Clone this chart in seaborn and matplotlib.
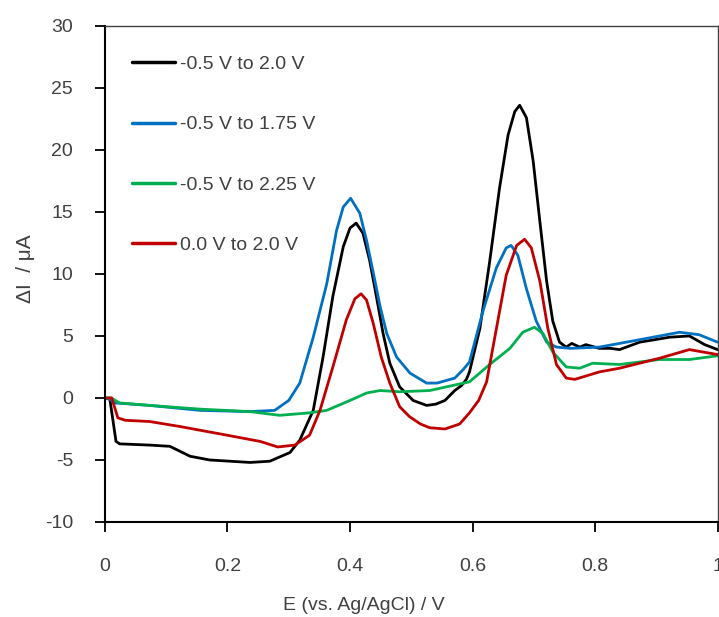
import matplotlib
matplotlib.use("Agg")
import matplotlib.pyplot as plt
import pandas as pd
import seaborn as sns

# (E in V, delta I in uA)
black_x = [0.0, 0.008, 0.018, 0.024, 0.073, 0.106, 0.139, 0.171, 0.237, 0.269, 0.302, 0.318,
           0.34, 0.356, 0.372, 0.389, 0.40, 0.41, 0.421, 0.432, 0.443, 0.454, 0.465, 0.481,
           0.503, 0.525, 0.54, 0.555, 0.571, 0.582, 0.59, 0.595, 0.612, 0.628, 0.644, 0.658,
           0.669, 0.677, 0.688, 0.699, 0.71, 0.721, 0.731, 0.742, 0.753, 0.762, 0.775, 0.785,
           0.807, 0.825, 0.84, 0.873, 0.922, 0.954, 0.979, 1.0]
black_y = [0.0, -0.1, -3.5, -3.7, -3.8, -3.9, -4.7, -5.0, -5.2, -5.1, -4.4, -3.4,
           -1.0, 3.3, 8.2, 12.2, 13.7, 14.1, 13.3, 11.1, 8.2, 5.2, 2.8, 0.9,
           -0.2, -0.6, -0.5, -0.2, 0.6, 1.0, 1.5, 2.1, 5.6, 11.0, 16.9, 21.2,
           23.1, 23.6, 22.6, 19.1, 14.2, 9.4, 6.2, 4.5, 4.1, 4.4, 4.1, 4.3,
           4.0, 4.0, 3.9, 4.5, 4.9, 5.0, 4.3, 3.9]

blue_x = [0.0, 0.008, 0.016, 0.073, 0.155, 0.237, 0.277, 0.30, 0.318, 0.34, 0.362, 0.378,
          0.389, 0.401, 0.416, 0.427, 0.438, 0.449, 0.46, 0.476, 0.498, 0.525, 0.542, 0.571,
          0.585, 0.595, 0.617, 0.639, 0.655, 0.663, 0.674, 0.688, 0.704, 0.721, 0.737, 0.76,
          0.807, 0.873, 0.938, 0.97, 1.0]
blue_y = [0.0, -0.1, -0.4, -0.6, -1.0, -1.1, -1.0, -0.2, 1.2, 4.9, 9.2, 13.5,
          15.4, 16.1, 14.9, 12.7, 10.1, 7.4, 5.2, 3.3, 2.0, 1.2, 1.2, 1.6,
          2.3, 2.9, 7.0, 10.5, 12.1, 12.3, 11.5, 8.8, 6.2, 4.5, 4.1, 4.0,
          4.1, 4.7, 5.3, 5.1, 4.5]

green_x = [0.0, 0.01, 0.024, 0.073, 0.155, 0.237, 0.285, 0.334, 0.362, 0.40, 0.427, 0.449,
           0.481, 0.53, 0.595, 0.628, 0.661, 0.682, 0.701, 0.715, 0.731, 0.753, 0.775, 0.796,
           0.84, 0.905, 0.954, 1.0]
green_y = [0.0, 0.0, -0.4, -0.6, -0.9, -1.1, -1.4, -1.2, -1.0, -0.2, 0.4, 0.6,
           0.5, 0.6, 1.3, 2.7, 4.0, 5.3, 5.7, 5.2, 3.7, 2.5, 2.4, 2.8,
           2.7, 3.1, 3.1, 3.4]

red_x = [0.0, 0.011, 0.021, 0.033, 0.073, 0.122, 0.188, 0.253, 0.282, 0.31, 0.334, 0.351,
         0.372, 0.394, 0.408, 0.418, 0.427, 0.438, 0.451, 0.465, 0.481, 0.497, 0.515, 0.53,
         0.555, 0.579, 0.595, 0.61, 0.623, 0.639, 0.655, 0.672, 0.685, 0.696, 0.71, 0.723,
         0.737, 0.753, 0.767, 0.807, 0.84, 0.905, 0.954, 1.0]
red_y = [0.0, 0.0, -1.6, -1.8, -1.9, -2.3, -2.9, -3.5, -3.95, -3.8, -3.0, -1.0,
         2.5, 6.3, 8.0, 8.4, 7.9, 6.0, 3.3, 1.2, -0.7, -1.5, -2.1, -2.4,
         -2.5, -2.1, -1.2, -0.2, 1.3, 5.6, 9.9, 12.3, 12.8, 12.1, 9.4, 5.6,
         2.7, 1.6, 1.5, 2.1, 2.4, 3.2, 3.9, 3.5]

labels = ["-0.5 V to 2.0 V", "-0.5 V to 1.75 V", "-0.5 V to 2.25 V", "0.0 V to 2.0 V"]
colors = ["#000000", "#0070C0", "#00B050", "#C00000"]

frames = []
for lab, xs, ys in zip(labels, [black_x, blue_x, green_x, red_x], [black_y, blue_y, green_y, red_y]):
    frames.append(pd.DataFrame({"E": xs, "I": ys, "scan": lab}))
df = pd.concat(frames, ignore_index=True)

sns.set_style("white")
plt.rcParams["font.family"] = ["Liberation Sans", "DejaVu Sans"]
plt.rcParams["axes.unicode_minus"] = False

fig = plt.figure(figsize=(7.19, 6.17), dpi=100)
ax = fig.add_axes([0.146, 0.154, 0.852, 0.804])

sns.lineplot(data=df, x="E", y="I", hue="scan", hue_order=labels, palette=colors,
             sort=False, estimator=None, linewidth=2.0, ax=ax)
for ln in ax.get_lines():
    ln.set_solid_joinstyle("round")

ax.set_xlim(0, 1)
ax.set_ylim(-10, 30)
ax.set_xticks([0, 0.2, 0.4, 0.6, 0.8, 1])
ax.set_xticklabels(["0", "0.2", "0.4", "0.6", "0.8", "1"])
ax.set_yticks(range(-10, 31, 5))

for side in ["left", "bottom"]:
    ax.spines[side].set_color("black")
    ax.spines[side].set_linewidth(1.5)
for side in ["top", "right"]:
    ax.spines[side].set_color("#404040")
    ax.spines[side].set_linewidth(1.0)

ax.tick_params(axis="y", direction="out", length=7, width=1.3, color="black",
               pad=16, labelsize=14, labelcolor="#404040", left=True)
ax.tick_params(axis="x", direction="out", length=7, width=1.3, color="black",
               pad=19, labelsize=14, labelcolor="#404040", bottom=True)

ax.set_xlabel("E (vs. Ag/AgCl) / V", fontsize=14, color="#404040")
ax.xaxis.set_label_coords(0.423, -0.152)
ax.set_ylabel("ΔI  / μA", fontsize=15, color="#404040")
ax.yaxis.set_label_coords(-0.114, 0.51)

leg = ax.legend(loc="upper left", bbox_to_anchor=(0.029, 0.96), frameon=False,
                fontsize=14, handlelength=2.2, handletextpad=0.25, labelspacing=2.2,
                borderpad=0)
for t in leg.get_texts():
    t.set_color("#404040")
for h in leg.get_lines():
    h.set_linewidth(2.5)

fig.savefig("out.png", dpi=100)
